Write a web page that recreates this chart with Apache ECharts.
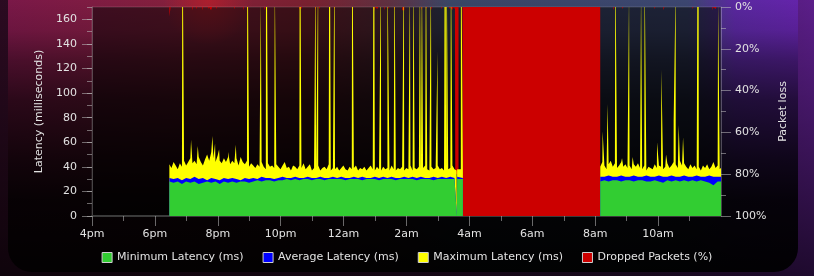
<!DOCTYPE html>
<html><head><meta charset="utf-8">
<script src="https://cdn.jsdelivr.net/npm/echarts@6/dist/echarts.min.js"></script>
<style>
html,body{margin:0;padding:0;width:814px;height:276px;overflow:hidden;background:#000;}
#bg{position:absolute;left:0;top:0;width:814px;height:276px;
background:linear-gradient(to bottom, rgba(0,0,0,0.25) 0%, rgba(0,0,0,0.75) 100%),
linear-gradient(to right, #3a0e2c 0%, #4a1440 40%, #5a2070 80%, #7a28b8 100%);}
#box{position:absolute;left:8px;top:-30px;width:790px;height:302px;border-radius:24px;overflow:hidden;
background:
 radial-gradient(circle at 200px 30px, rgba(190,30,40,0.7) 0px, rgba(190,30,40,0) 45px),
 linear-gradient(to bottom, rgba(0,0,0,0) 0%, rgba(0,0,0,0) 10%, rgba(0,0,0,0.12) 20%, rgba(0,0,0,0.4) 30%, rgba(0,0,0,0.65) 43%, rgba(0,0,0,0.85) 63%, rgba(0,0,0,0.94) 76%, rgba(0,0,0,0.98) 100%),
 linear-gradient(to right, #7a1848 0%, #84203c 22%, #7a2030 38%, #603040 48%, #3a4666 56%, #3c4670 86%, #5a28a0 92%, #6424aa 100%);}
#chart{position:absolute;left:0;top:0;width:814px;height:276px;}
</style></head>
<body>
<div id="bg"></div><div id="box"></div><div id="chart"></div>
<script>
// ---- data (hours after 4pm) ----
const xTickLabels = ['4pm','6pm','8pm','10pm','12am','2am','4am','6am','8am','10am'];
const yTickValues = [0,20,40,60,80,100,120,140,160];
const seg1Start = 2.46, seg2Start = 16.16;
const fineStep = 1/15, coarseStep = 2/15;

const maxSeg1 = [
42,39,44,41,38,43,40,45,41,44,
47,43,45,42,48,44,41,46,50,45,
52,47,44,49,45,43,47,44,48,42,
45,43,47,41,48,44,42,45,40,43,
41,39,42,40,44,40,38,43,40,41,
39,42,40,38,41,44,39,40,37,41,
40,38,41,39,43,38,40,42,37,39,
38,41,37,39,40,38,42,37,39,38,
40,37,39,41,38,37,40,38,39,41,
37,39,38,40,37,39,41,38,37,40,
38,37,40,38,39,37,41,38,37,39,
38,40,37,39,38,41,37,39,38,40,
37,39,41,38,37,40,38,39,41,38,
39,37,40,38,39,41,38,37,39,38,40];
const maxSeg2 = [
40,44,41,38,42,45,40,43,39,41,
44,40,42,39,41,38,42,40,43,39,
38,41,37,40,39,38,42,39,41,40,
38,40,43,39,41,44,42,39,45,41,
43,40,38,42,39,41,38,40,37,41,
39,42,38,40,44,39,41,38,40];
const maxSpikeHours = [2.873,3.150,3.363,3.828,3.913,4.041,4.327,4.572,4.941,5.367,5.536,5.813,6.608,7.105,7.191,7.550,7.709,8.272,8.963,9.185,9.395,9.618,9.917,10.108,10.223,10.426,10.490,10.617,10.776,10.986,11.231,11.273,11.413,11.731,
16.236,16.395,16.640,16.853,17.076,17.191,17.458,17.572,17.967,18.104,18.253,18.495,18.559,18.654,18.794,19.281,19.908];
const maxSpikeVals = [260,62,57,65,59,54,52,58,260,175,320,190,300,200,200,320,210,260,320,200,200,210,210,190,200,200,200,220,200,134,360,220,210,260,
69,91,220,47,180,48,185,200,60,119,50,77,190,74,64,400,175];

const avgSeg1 = [
31,30,31,29,31,30,32,30,31,29,
31,30,29,31,30,31,30,29,31,30,
31,30,32,31,31,30,31,32,31,31,
32,31,31,32,31,31,32,31,31,32,
31,32,31,31,32,31,32,31,31,32,
31,32,31,32,31,31,32,31,32,31,
32,31,31,32,31,32,31,32,31,32,31];
const avgSeg2 = [32,32,33,32,32,33,32,32,33,32,32,33,32,32,33,32,32,33,32,32,33,32,32,33,32,32,33,32,32,32];
const minSeg1 = [
28,27,28,26,28,27,28,26,27,28,
27,28,26,28,27,28,27,28,28,27,
28,29,28,29,29,28,29,29,30,29,
30,29,30,30,29,30,30,29,30,30,
30,30,29,30,30,30,29,30,30,30,
29,30,30,30,29,30,30,30,30,29,
30,30,30,29,30,30,30,30,30,30,30];
const minSeg2 = [28,29,28,29,29,28,29,29,28,29,29,28,28,29,28,27,29,28,29,28,29,28,29,28,29,28,27,25,28,28];

const dipHours = [11.59, 11.60, 11.61];
const dipMax = [38, 0, 38];
const dipAvg = [32, 0, 32];
const dipMin = [30, 0, 30];

const dropStart = [2.46,3.182,3.309,3.500,3.691,3.786,3.945,4.518,4.805,4.932,5.472,6.586,6.650,7.095,7.222,7.541,7.700,8.272,8.972,9.068,9.291,9.418,9.609,9.863,10.468,10.627,10.786,11.104,11.231,11.359,11.454,11.518,11.550,11.780,16.577,16.863,17.881,18.168,19.091,19.727,19.822];
const dropEnd   = [2.50,3.215,3.342,3.533,3.724,3.819,3.978,4.551,4.838,4.965,5.505,6.619,6.683,7.128,7.255,7.574,7.733,8.305,9.005,9.101,9.324,9.451,9.642,9.930,10.501,10.660,10.819,11.137,11.264,11.392,11.487,11.540,11.655,16.160,16.610,16.896,17.914,18.201,19.124,19.760,19.855];
const dropPct   = [4.5,1.5,1,1.5,1,1.5,1,1,1.5,2,1.5,1.5,1,1.5,1,1.5,1,1.5,2,1,1.5,1,1.5,1.5,1.5,1,1.5,1,1.5,1,1.5,1,80,100,1.5,1,1,1.5,1,1.5,1];

// ---- build series data ----
function grid(start, step, vals){ return vals.map((v,i)=>[start+i*step, v]); }
function withExtras(pts, hours, vals){
  const lo = pts[0][0], hi = pts[pts.length-1][0];
  hours.forEach((h,i)=>{ if(h>=lo && h<=hi) pts.push([h, vals[i]]); });
  pts.sort((a,b)=>a[0]-b[0]);
  return pts;
}
function twoSeg(s1, s2){ return s1.concat([[13.9, null]], s2); }

const maxData = twoSeg(
  withExtras(withExtras(grid(seg1Start, fineStep, maxSeg1), maxSpikeHours, maxSpikeVals), dipHours, dipMax),
  withExtras(grid(seg2Start, fineStep, maxSeg2), maxSpikeHours, maxSpikeVals));
const avgData = twoSeg(withExtras(grid(seg1Start, coarseStep, avgSeg1), dipHours, dipAvg), grid(seg2Start, coarseStep, avgSeg2));
const minData = twoSeg(withExtras(grid(seg1Start, coarseStep, minSeg1), dipHours, dipMin), grid(seg2Start, coarseStep, minSeg2));
const dropData = [];
dropStart.forEach((s,i)=>{ dropData.push([s, dropPct[i]]); dropData.push([dropEnd[i], 0]); });
dropData.push([20, 0]);

const FONT = 'DejaVu Sans';
const TXT = '#e2e2e2';
const TICK = 'rgba(190,190,190,0.55)';
const chart = echarts.init(document.getElementById('chart'));
function area(name, color, data, z, extra){
  return Object.assign({
    name, type:'line', data, z, color, symbol:'none', showSymbol:false,
    lineStyle:{width:0, color}, areaStyle:{color, opacity:1},
    emphasis:{disabled:true}, silent:true, connectNulls:false, clip:true
  }, extra||{});
}
chart.setOption({
  animation:false,
  textStyle:{fontFamily:FONT},
  grid:{left:92, right:93, top:7, bottom:60, show:true, backgroundColor:'rgba(0,0,0,0.5)', borderColor:'rgba(255,255,255,0.16)', borderWidth:1},
  legend:{
    top:247, left:'center', itemWidth:10, itemHeight:10, itemGap:19, icon:'rect', selectedMode:false,
    textStyle:{color:TXT, fontSize:11, fontFamily:FONT},
    itemStyle:{borderColor:'#cfcfcf', borderWidth:1},
    data:['Minimum Latency (ms)','Average Latency (ms)','Maximum Latency (ms)','Dropped Packets (%)']
  },
  xAxis:{
    type:'value', min:0, max:20, interval:2,
    axisLine:{show:true, lineStyle:{color:'#3a3a3a', width:2}},
    axisTick:{show:true, length:10, lineStyle:{color:TICK}, customValues:xTickLabels.map((_,i)=>i*2)},
    minorTick:{show:true, splitNumber:2, length:5, lineStyle:{color:TICK}},
    axisLabel:{color:TXT, fontSize:11, margin:13, customValues:xTickLabels.map((_,i)=>i*2), formatter:v=>xTickLabels[Math.round(v/2)]},
    splitLine:{show:false}
  },
  yAxis:[
    {type:'value', min:0, max:170, interval:20, position:'left',
     name:'Latency (milliseconds)', nameLocation:'middle', nameGap:46, nameTextStyle:{color:TXT, fontSize:11},
     axisLine:{show:true, lineStyle:{color:'rgba(255,255,255,0.2)'}},
     axisTick:{show:true, length:10, lineStyle:{color:TICK}, customValues:yTickValues},
     axisLabel:{color:TXT, fontSize:11, margin:15, customValues:yTickValues},
     splitLine:{show:false}},
    {type:'value', min:0, max:170, interval:10, position:'left',
     axisLine:{show:false}, axisTick:{show:true, length:5, lineStyle:{color:TICK}},
     axisLabel:{show:false}, splitLine:{show:false}},
    {type:'value', min:0, max:100, interval:20, position:'right', inverse:true,
     name:'Packet loss', nameLocation:'middle', nameGap:44, nameTextStyle:{color:TXT, fontSize:11},
     axisLine:{show:true, lineStyle:{color:'rgba(255,255,255,0.2)'}},
     axisTick:{show:true, length:10, lineStyle:{color:TICK}},
     minorTick:{show:true, splitNumber:2, length:5, lineStyle:{color:TICK}},
     axisLabel:{color:TXT, fontSize:11, margin:14, formatter:'{value}%'},
     splitLine:{show:false}}
  ],
  series:[
    area('Minimum Latency (ms)', '#32cd32', minData, 5),
    area('Average Latency (ms)', '#0000ff', avgData, 4),
    area('Maximum Latency (ms)', '#ffff00', maxData, 3),
    area('Dropped Packets (%)', '#cc0000', dropData, 2, {yAxisIndex:2, step:'end'})
  ]
});
</script>
</body></html>
